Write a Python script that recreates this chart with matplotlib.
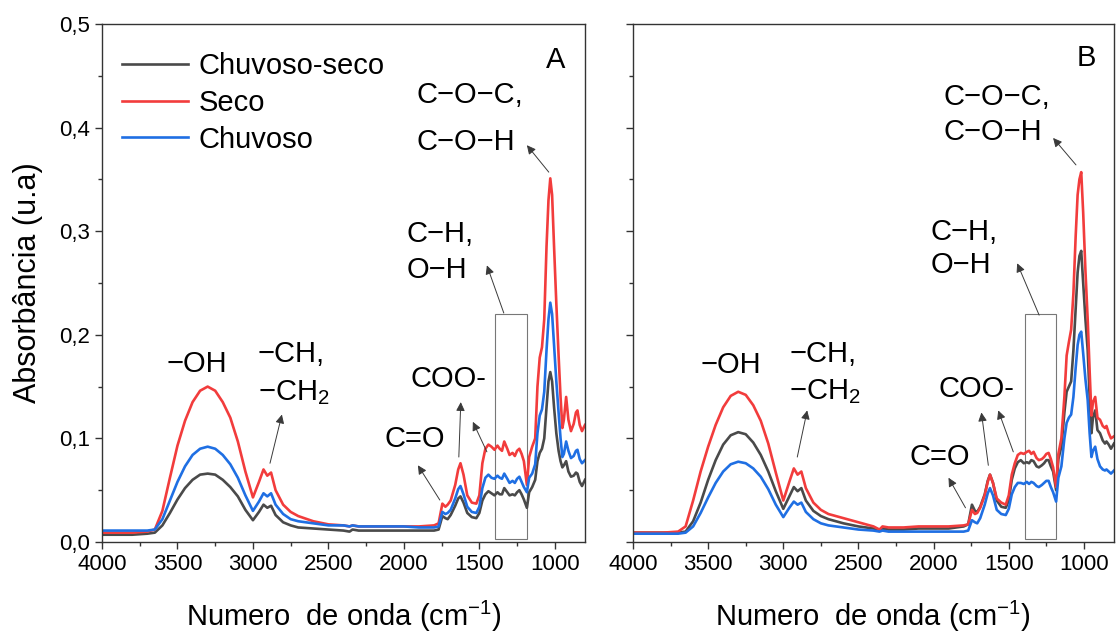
import matplotlib
matplotlib.use("Agg")
import matplotlib.pyplot as plt
from matplotlib.patches import Rectangle
from matplotlib.ticker import MultipleLocator, FuncFormatter

plt.rcParams["font.family"] = ["Liberation Sans", "DejaVu Sans"]
plt.rcParams["mathtext.fontset"] = "custom"
plt.rcParams["mathtext.rm"] = "Liberation Sans"
plt.rcParams["mathtext.it"] = "Liberation Sans:italic"

# wavenumber grid (cm-1), shared by every spectrum
wavenumber = [
    4000, 3900, 3800, 3700, 3650, 3600, 3550, 3500, 3450, 3400, 3350, 3300, 3250, 3200, 3150, 3100, 3050, 3000,
    2960, 2930, 2905, 2880, 2850, 2800, 2750, 2700, 2600, 2500, 2400, 2360, 2340, 2300, 2200, 2100, 2000, 1900, 1800,
    1770, 1745, 1725, 1710, 1690, 1660, 1640, 1625, 1605, 1580, 1550, 1520, 1500,
    1480, 1460, 1440, 1420, 1400, 1380, 1365, 1350, 1335, 1315, 1300, 1280, 1265, 1250, 1235, 1220, 1205, 1185,
    1170, 1150, 1130, 1115, 1100, 1085, 1070, 1055, 1042, 1030, 1018, 1005, 990, 975, 962, 950, 940,
    925, 910, 893, 875, 860, 850, 835, 820, 800,
]

# panel A
a_chuvoso_seco = [
    0.007, 0.007, 0.007, 0.008, 0.009, 0.016, 0.028, 0.041, 0.052, 0.060, 0.065, 0.066, 0.065, 0.060, 0.053, 0.044, 0.031, 0.021,
    0.029, 0.036, 0.033, 0.035, 0.026, 0.019, 0.016, 0.014, 0.013, 0.012, 0.011, 0.010, 0.012, 0.011, 0.011, 0.011, 0.011, 0.011, 0.011,
    0.012, 0.025, 0.023, 0.022, 0.026, 0.035, 0.042, 0.044, 0.038, 0.028, 0.024, 0.023, 0.028,
    0.040, 0.046, 0.049, 0.047, 0.045, 0.048, 0.046, 0.046, 0.052, 0.048, 0.045, 0.046, 0.045, 0.048, 0.050, 0.046, 0.041, 0.033,
    0.048, 0.053, 0.060, 0.078, 0.086, 0.090, 0.100, 0.130, 0.155, 0.164, 0.155, 0.130, 0.105, 0.088, 0.078, 0.072, 0.074,
    0.078, 0.068, 0.063, 0.064, 0.067, 0.066, 0.058, 0.054, 0.060,
]
a_seco = [
    0.009, 0.009, 0.009, 0.010, 0.012, 0.030, 0.062, 0.093, 0.117, 0.135, 0.146, 0.150, 0.146, 0.135, 0.120, 0.097, 0.068, 0.043,
    0.058, 0.070, 0.064, 0.067, 0.050, 0.036, 0.029, 0.025, 0.020, 0.017, 0.016, 0.015, 0.016, 0.015, 0.015, 0.015, 0.015, 0.015, 0.016,
    0.018, 0.037, 0.034, 0.036, 0.040, 0.055, 0.070, 0.076, 0.065, 0.045, 0.038, 0.037, 0.045,
    0.076, 0.090, 0.094, 0.092, 0.089, 0.093, 0.090, 0.088, 0.097, 0.090, 0.084, 0.086, 0.083, 0.088, 0.090, 0.085, 0.078, 0.055,
    0.082, 0.092, 0.100, 0.150, 0.178, 0.188, 0.215, 0.285, 0.330, 0.351, 0.335, 0.285, 0.230, 0.180, 0.140, 0.110, 0.118,
    0.140, 0.118, 0.107, 0.114, 0.125, 0.127, 0.113, 0.107, 0.113,
]
a_chuvoso = [
    0.011, 0.011, 0.011, 0.011, 0.012, 0.022, 0.040, 0.058, 0.073, 0.084, 0.090, 0.092, 0.090, 0.084, 0.075, 0.062, 0.045, 0.030,
    0.039, 0.047, 0.044, 0.047, 0.036, 0.027, 0.022, 0.020, 0.018, 0.016, 0.016, 0.015, 0.016, 0.015, 0.015, 0.015, 0.015, 0.014, 0.014,
    0.015, 0.029, 0.027, 0.028, 0.031, 0.042, 0.051, 0.054, 0.046, 0.034, 0.029, 0.028, 0.034,
    0.052, 0.062, 0.065, 0.062, 0.061, 0.064, 0.062, 0.061, 0.066, 0.061, 0.057, 0.059, 0.057, 0.061, 0.063, 0.058, 0.053, 0.048,
    0.062, 0.066, 0.075, 0.105, 0.122, 0.128, 0.145, 0.185, 0.215, 0.231, 0.220, 0.190, 0.155, 0.125, 0.100, 0.082, 0.085,
    0.097, 0.088, 0.081, 0.083, 0.088, 0.089, 0.080, 0.076, 0.079,
]

# panel B
b_chuvoso_seco = [
    0.009, 0.009, 0.009, 0.009, 0.010, 0.020, 0.038, 0.060, 0.079, 0.094, 0.103, 0.106, 0.104, 0.096, 0.084, 0.068, 0.049, 0.032,
    0.044, 0.053, 0.049, 0.052, 0.040, 0.030, 0.025, 0.022, 0.018, 0.015, 0.013, 0.011, 0.013, 0.012, 0.012, 0.013, 0.013, 0.013, 0.015,
    0.017, 0.036, 0.030, 0.029, 0.034, 0.046, 0.059, 0.065, 0.057, 0.040, 0.034, 0.033, 0.040,
    0.060, 0.071, 0.077, 0.079, 0.076, 0.077, 0.076, 0.079, 0.078, 0.073, 0.072, 0.074, 0.076, 0.079, 0.079, 0.073, 0.068, 0.050,
    0.080, 0.092, 0.125, 0.145, 0.150, 0.155, 0.185, 0.225, 0.260, 0.276, 0.281, 0.250, 0.215, 0.185, 0.140, 0.105, 0.120,
    0.127, 0.108, 0.105, 0.098, 0.095, 0.097, 0.094, 0.090, 0.095,
]
b_seco = [
    0.009, 0.009, 0.009, 0.010, 0.015, 0.040, 0.068, 0.092, 0.113, 0.130, 0.141, 0.145, 0.142, 0.132, 0.117, 0.095, 0.067, 0.040,
    0.058, 0.071, 0.065, 0.068, 0.052, 0.038, 0.031, 0.027, 0.023, 0.019, 0.015, 0.012, 0.015, 0.014, 0.014, 0.015, 0.015, 0.015, 0.016,
    0.017, 0.031, 0.027, 0.028, 0.033, 0.045, 0.058, 0.065, 0.057, 0.042, 0.038, 0.036, 0.045,
    0.065, 0.076, 0.084, 0.086, 0.085, 0.087, 0.088, 0.085, 0.087, 0.081, 0.079, 0.080, 0.082, 0.085, 0.086, 0.080, 0.072, 0.053,
    0.085, 0.100, 0.140, 0.180, 0.193, 0.205, 0.240, 0.295, 0.335, 0.350, 0.357, 0.318, 0.262, 0.215, 0.165, 0.122, 0.135,
    0.140, 0.120, 0.118, 0.112, 0.110, 0.112, 0.105, 0.100, 0.102,
]
b_chuvoso = [
    0.008, 0.008, 0.008, 0.008, 0.009, 0.015, 0.028, 0.043, 0.057, 0.068, 0.075, 0.0775, 0.076, 0.071, 0.063, 0.051, 0.036, 0.024,
    0.033, 0.039, 0.036, 0.038, 0.029, 0.022, 0.018, 0.016, 0.014, 0.012, 0.011, 0.010, 0.011, 0.010, 0.010, 0.010, 0.010, 0.010, 0.010,
    0.011, 0.021, 0.019, 0.018, 0.023, 0.036, 0.047, 0.052, 0.045, 0.031, 0.027, 0.026, 0.032,
    0.046, 0.053, 0.057, 0.057, 0.056, 0.058, 0.056, 0.058, 0.057, 0.054, 0.053, 0.055, 0.057, 0.059, 0.059, 0.053, 0.048, 0.039,
    0.062, 0.073, 0.100, 0.115, 0.120, 0.123, 0.140, 0.168, 0.190, 0.200, 0.203, 0.182, 0.157, 0.137, 0.105, 0.082, 0.088,
    0.092, 0.080, 0.073, 0.070, 0.069, 0.070, 0.068, 0.066, 0.069,
]

labels = ["Chuvoso-seco", "Seco", "Chuvoso"]
colors = ["#4a4a4a", "#f23c3c", "#1f6fe3"]

fig = plt.figure(figsize=(11.16, 6.35), dpi=100)
ax_a = fig.add_axes([0.0914, 0.1465, 0.4328, 0.8157])
ax_b = fig.add_axes([0.5672, 0.1465, 0.4310, 0.8157])

comma = FuncFormatter(lambda v, p: f"{v:.1f}".replace(".", ","))

for ax, series in [(ax_a, [a_chuvoso_seco, a_seco, a_chuvoso]),
                   (ax_b, [b_chuvoso_seco, b_seco, b_chuvoso])]:
    for y, lab, c in zip(series, labels, colors):
        ax.plot(wavenumber, y, color=c, lw=1.9, label=lab)
    ax.set_xlim(4000, 800)
    ax.set_ylim(0, 0.5)
    ax.xaxis.set_major_locator(MultipleLocator(500))
    ax.xaxis.set_minor_locator(MultipleLocator(250))
    ax.yaxis.set_major_locator(MultipleLocator(0.1))
    ax.yaxis.set_minor_locator(MultipleLocator(0.05))
    ax.yaxis.set_major_formatter(comma)
    ax.tick_params(which="major", direction="out", length=5, width=1, labelsize=16, color="#333")
    ax.tick_params(which="minor", direction="out", length=3, width=1, color="#333")
    for s in ax.spines.values():
        s.set_linewidth(1.0)
        s.set_color("#333")
    ax.set_xlabel("Numero  de onda (cm$^{-1}$)", fontsize=21, labelpad=17)
    # box around the C-H / O-H region
    ax.add_patch(Rectangle((1395, 0.003), -210, 0.217, fill=False, ec="#777", lw=0.8))

ax_b.tick_params(axis="y", labelleft=False)
ax_a.set_ylabel("Absorbância (u.a)", fontsize=22, labelpad=12)

ax_a.legend(loc="upper left", bbox_to_anchor=(0.0, 0.985), frameon=False, fontsize=21,
            handlelength=2.25, handletextpad=0.35, labelspacing=0.3, borderaxespad=0.3)

arrow_kw = dict(arrowstyle="-|>", color="#3a3a3a", lw=0.7, mutation_scale=13, shrinkA=0, shrinkB=0)
fs = 21


def note(ax, text, x, y, ha="left"):
    ax.text(x, y, text, fontsize=fs, ha=ha, va="baseline")


def arrow(ax, tail, head):
    ax.annotate("", xy=head, xytext=tail, arrowprops=arrow_kw)


# panel A labels
ax_a.text(993, 0.465, "A", fontsize=21, ha="center", va="center")
note(ax_a, "\u2212OH", 3371, 0.164, ha="center")
note(ax_a, "\u2212CH,", 2967, 0.174)
note(ax_a, "\u2212CH$_2$", 2967, 0.137)
arrow(ax_a, (2887, 0.076), (2808, 0.123))
note(ax_a, "C=O", 1927, 0.092, ha="center")
arrow(ax_a, (1762, 0.0405), (1907, 0.074))
note(ax_a, "COO-", 1702, 0.150, ha="center")
arrow(ax_a, (1636, 0.082), (1623, 0.135))
arrow(ax_a, (1450, 0.087), (1543, 0.116))
note(ax_a, "C\u2212H,", 1980, 0.290)
note(ax_a, "O\u2212H", 1980, 0.255)
arrow(ax_a, (1338, 0.221), (1450, 0.267))
note(ax_a, "C\u2212O\u2212C,", 1914, 0.424)
note(ax_a, "C\u2212O\u2212H", 1914, 0.378)
arrow(ax_a, (1040, 0.357), (1185, 0.383))

# panel B labels
ax_b.text(987, 0.467, "B", fontsize=21, ha="center", va="center")
note(ax_b, "\u2212OH", 3351, 0.163, ha="center")
note(ax_b, "\u2212CH,", 2960, 0.174)
note(ax_b, "\u2212CH$_2$", 2960, 0.138)
arrow(ax_b, (2907, 0.082), (2841, 0.127))
note(ax_b, "C=O", 1960, 0.074, ha="center")
arrow(ax_b, (1788, 0.033), (1901, 0.062))
note(ax_b, "COO-", 1715, 0.140, ha="center")
arrow(ax_b, (1636, 0.074), (1682, 0.125))
arrow(ax_b, (1470, 0.087), (1570, 0.127))
note(ax_b, "C\u2212H,", 2020, 0.2915)
note(ax_b, "O\u2212H", 2020, 0.260)
arrow(ax_b, (1298, 0.219), (1444, 0.269))
note(ax_b, "C\u2212O\u2212C,", 1934, 0.422)
note(ax_b, "C\u2212O\u2212H", 1934, 0.388)
arrow(ax_b, (1053, 0.364), (1205, 0.390))

fig.savefig("out.png", dpi=100)
